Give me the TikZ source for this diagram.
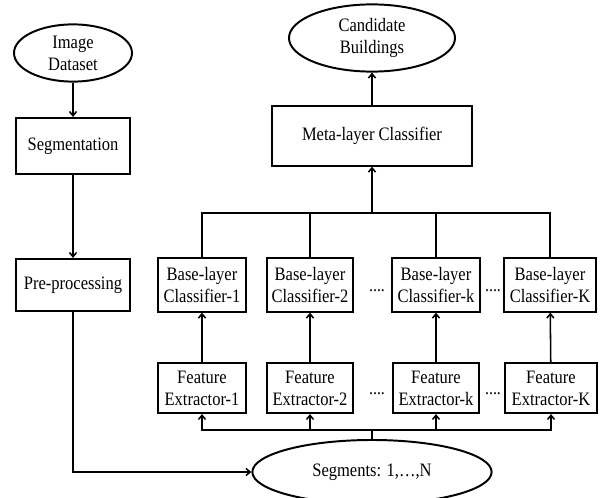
\documentclass[tikz,border=0pt]{standalone}
\usepackage{fontspec}
\setmainfont{Liberation Serif}[FakeStretch=0.87]
\usetikzlibrary{shapes.geometric,arrows.meta}

\tikzset{
  box/.style={draw, line width=1.5pt, rectangle, align=center, inner sep=1pt},
  oval/.style={draw, line width=1.4pt, ellipse, align=center, inner sep=0pt},
  link/.style={line width=1.1pt},
  dots/.style={inner sep=0pt, font=\fontsize{13}{15}\selectfont}
}

\begin{document}
\begin{tikzpicture}[x=0.025cm, y=-0.025cm, >={Straight Barb[length=3pt,width=5pt]},
    font=\fontsize{13.5}{15.6}\selectfont]
    \useasboundingbox (0,0) rectangle (601,498);

    % Left column
    \node[oval, minimum width=2.95cm, minimum height=1.43cm] (data) at (73,53) {Image\\Dataset};
    \node[box, minimum width=2.85cm, minimum height=1.4cm] (seg) at (73,146) {Segmentation};
    \node[box, minimum width=2.83cm, minimum height=1.3cm] (prep) at (73,285) {Pre-processing};

    % Segments
    \node[oval, minimum width=5.98cm, minimum height=1.6cm] (segs) at (372,472) {Segments: 1,\dots,N};

    % Feature extractors
    \node[box, minimum width=2.22cm, minimum height=1.25cm] (fe1) at (202,388) {Feature\\Extractor-1};
    \node[box, minimum width=2.14cm, minimum height=1.25cm] (fe2) at (310,388) {Feature\\Extractor-2};
    \node[box, minimum width=2.17cm, minimum height=1.25cm] (fek) at (436,388) {Feature\\Extractor-k};
    \node[box, minimum width=2.28cm, minimum height=1.25cm] (feK) at (551,388) {Feature\\Extractor-K};

    % Base-layer classifiers
    \node[box, minimum width=2.22cm, minimum height=1.33cm] (bc1) at (202,285) {Base-layer\\Classifier-1};
    \node[box, minimum width=2.14cm, minimum height=1.33cm] (bc2) at (310,285) {Base-layer\\Classifier-2};
    \node[box, minimum width=2.2cm, minimum height=1.33cm] (bck) at (436,285) {Base-layer\\Classifier-k};
    \node[box, minimum width=2.3cm, minimum height=1.33cm] (bcK) at (550,285) {Base-layer\\Classifier-K};

    % Dots
    \node[dots] (dotsB1) at (377,291) {....};
    \node[dots] (dotsB2) at (493,291) {....};
    \node[dots] (dotsF1) at (377,394) {....};
    \node[dots] (dotsF2) at (493,394) {....};

    % Meta-layer and output
    \node[box, minimum width=4.98cm, minimum height=1.48cm] (meta) at (372,136) {Meta-layer Classifier};
    \node[oval, minimum width=4.15cm, minimum height=1.68cm] (cand) at (372,38) {Candidate\\Buildings};

    % Bus points
    \coordinate (busB) at (372,430);
    \coordinate (busT) at (372,213);

    % Connections
    \draw[link, ->] (data) -- (seg);
    \draw[link, ->] (seg) -- (prep);
    \draw[link, ->] (prep.south) |- (segs.west);
    \draw[link] (segs.north) -- (busB);
    \foreach \f in {fe1,fe2,fek,feK}
      \draw[link, ->] (busB) -| (\f.south);
    \draw[link, ->] (fe1) -- (bc1);
    \draw[link, ->] (fe2) -- (bc2);
    \draw[link, ->] (fek) -- (bck);
    \draw[link, ->] (feK) -- (bcK);
    \foreach \b in {bc1,bc2,bck,bcK}
      \draw[link] (\b.north) |- (busT);
    \draw[link, ->] (busT) -- (meta.south);
    \draw[link, ->] (meta) -- (cand);
\end{tikzpicture}
\end{document}
